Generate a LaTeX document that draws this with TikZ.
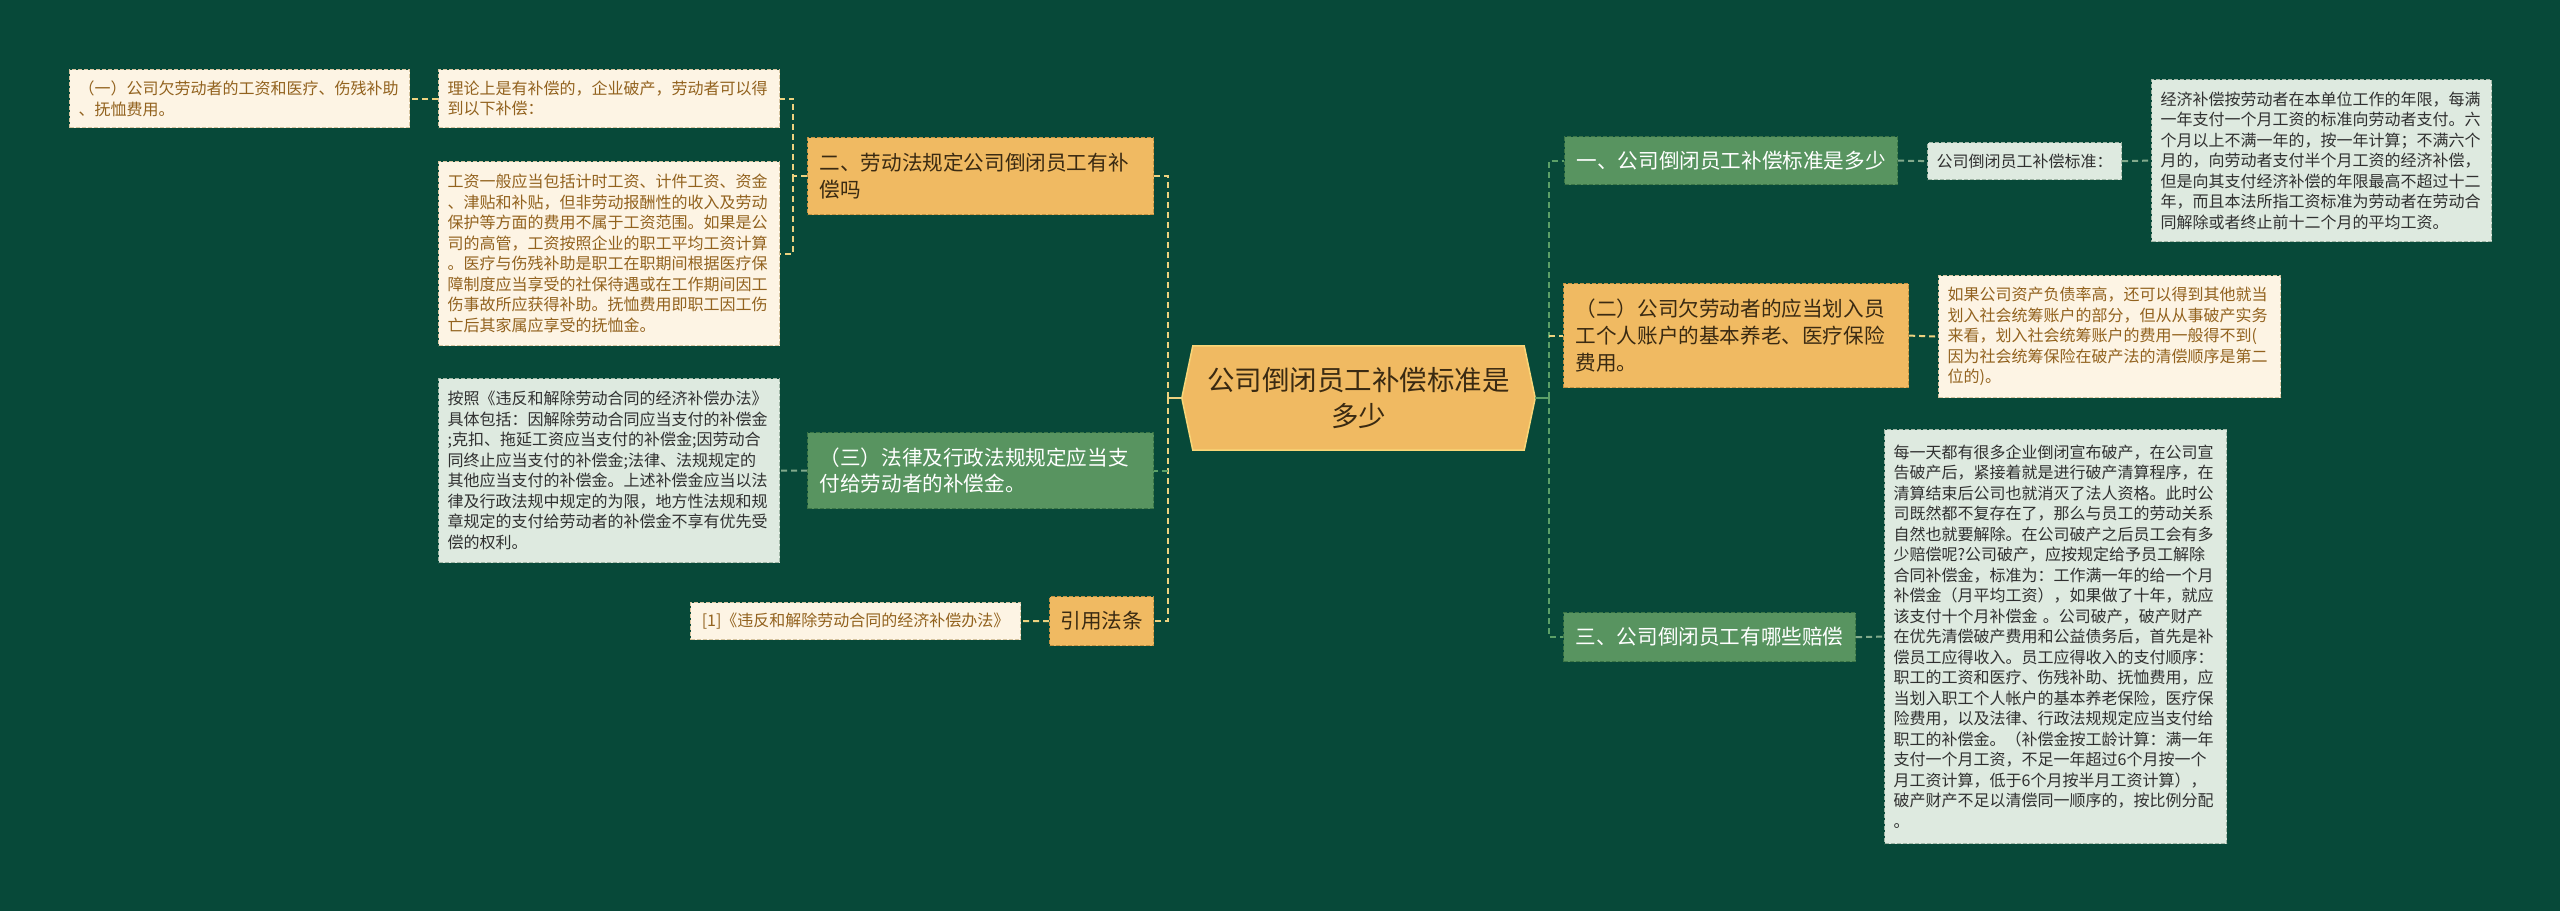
\documentclass[tikz,border=0pt]{standalone}
\usepackage{fontspec}
\setmainfont{Noto Sans CJK SC}
\usetikzlibrary{backgrounds}
\definecolor{bgc}{RGB}{7,73,57}
\definecolor{orfill}{RGB}{240,186,98}
\definecolor{orborder}{RGB}{196,146,66}
\definecolor{ortext}{RGB}{58,42,18}
\definecolor{grfill}{RGB}{88,148,96}
\definecolor{grborder}{RGB}{58,116,70}
\definecolor{creamfill}{RGB}{253,244,228}
\definecolor{creamborder}{RGB}{214,196,160}
\definecolor{creamtext}{RGB}{146,98,30}
\definecolor{grayfill}{RGB}{222,234,224}
\definecolor{grayborder}{RGB}{160,182,166}
\definecolor{graytext}{RGB}{48,48,48}
\definecolor{yl}{RGB}{236,210,128}
\definecolor{gl}{RGB}{92,160,104}
\definecolor{gl2}{RGB}{130,170,140}
\definecolor{hexborder}{RGB}{248,214,120}
\newcommand\leaffont{\fontsize{16bp}{20.5bp}\selectfont}
\newcommand\branchfont{\fontsize{20.6bp}{26.7bp}\selectfont}
\newcommand\centerfont{\fontsize{27.5bp}{36.7bp}\selectfont}
\tikzset{
  box/.style={anchor=north west, inner xsep=9bp, inner ysep=2bp, dash pattern=on 4bp off 2bp, line width=1.2bp},
  cream/.style={box, fill=creamfill, draw=creamborder, text=creamtext, font=\leaffont, align=left},
  graybox/.style={box, fill=grayfill, draw=grayborder, text=graytext, font=\leaffont, align=left},
  obox/.style={box, inner xsep=12bp, fill=orfill, draw=orborder, text=ortext, font=\branchfont, align=left},
  gbox/.style={box, inner xsep=12bp, fill=grfill, draw=grborder, text=white, font=\branchfont, align=left},
  yline/.style={draw=yl, line width=2bp, dash pattern=on 6bp off 4bp},
  gline/.style={draw=gl, line width=2bp, dash pattern=on 6bp off 4bp},
  gline2/.style={draw=gl2, line width=2bp, dash pattern=on 6bp off 4bp},
}
\begin{document}
\begin{tikzpicture}[x=1bp, y=-1bp]
\useasboundingbox (0,0) rectangle (2560,911);
\begin{scope}[on background layer]
  \fill[bgc] (0,0) rectangle (2560,911);
\end{scope}

% centre
\node[minimum width=353bp, minimum height=104bp, inner sep=0pt, text=ortext, font=\centerfont, align=center, text width=330bp] (c) at (1358.5,398) {公司倒闭员工补偿标准是\\多少};
\begin{scope}[on background layer]
  \filldraw[fill=orfill, draw=hexborder, line width=1.5bp] (c.west) -- ([xshift=11bp]c.north west) -- ([xshift=-11bp]c.north east) -- (c.east) -- ([xshift=-11bp]c.south east) -- ([xshift=11bp]c.south west) -- cycle;
\end{scope}

% left side
\node[cream, minimum width=340bp, minimum height=58bp, text width=322bp] (l1) at (69,69) {（一）公司欠劳动者的工资和医疗、伤残补助\\、抚恤费用。};
\node[cream, minimum width=341bp, minimum height=58bp, text width=323bp] (l2) at (438,69) {理论上是有补偿的，企业破产，劳动者可以得\\到以下补偿：};
\node[cream, minimum width=341bp, minimum height=184bp, text width=323bp] (l3) at (438,161) {工资一般应当包括计时工资、计件工资、资金\\、津贴和补贴，但非劳动报酬性的收入及劳动\\保护等方面的费用不属于工资范围。如果是公\\司的高管，工资按照企业的职工平均工资计算\\。医疗与伤残补助是职工在职期间根据医疗保\\障制度应当享受的社保待遇或在工作期间因工\\伤事故所应获得补助。抚恤费用即职工因工伤\\亡后其家属应享受的抚恤金。};
\node[obox, minimum width=346bp, minimum height=77bp, text width=322bp] (n2) at (807,137) {二、劳动法规定公司倒闭员工有补\\偿吗};
\node[gbox, minimum width=346bp, minimum height=76bp, text width=322bp] (n3) at (807,432) {（三）法律及行政法规规定应当支\\付给劳动者的补偿金。};
\node[graybox, minimum width=341bp, minimum height=184bp, text width=323bp] (l4) at (438,378) {按照《违反和解除劳动合同的经济补偿办法》\\具体包括：因解除劳动合同应当支付的补偿金\\;克扣、拖延工资应当支付的补偿金;因劳动合\\同终止应当支付的补偿金;法律、法规规定的\\其他应当支付的补偿金。上述补偿金应当以法\\律及行政法规中规定的为限，地方性法规和规\\章规定的支付给劳动者的补偿金不享有优先受\\偿的权利。};
\node[obox, minimum width=104bp, minimum height=49bp, inner xsep=8bp] (n4) at (1049,596) {引用法条};
\node[cream, minimum width=330bp, minimum height=37bp] (l5) at (690,602) {[1]《违反和解除劳动合同的经济补偿办法》};

% right side
\node[gbox, minimum width=333bp, minimum height=48bp] (r1) at (1564,136) {一、公司倒闭员工补偿标准是多少};
\node[graybox, minimum width=194bp, minimum height=37bp] (r1a) at (1927,142) {公司倒闭员工补偿标准：};
\node[graybox, minimum width=340bp, minimum height=162bp, text width=322bp] (r1b) at (2151,79) {经济补偿按劳动者在本单位工作的年限，每满\\一年支付一个月工资的标准向劳动者支付。六\\个月以上不满一年的，按一年计算；不满六个\\月的，向劳动者支付半个月工资的经济补偿，\\但是向其支付经济补偿的年限最高不超过十二\\年，而且本法所指工资标准为劳动者在劳动合\\同解除或者终止前十二个月的平均工资。};
\node[obox, minimum width=345bp, minimum height=104bp, text width=321bp] (r2) at (1563,283) {（二）公司欠劳动者的应当划入员\\工个人账户的基本养老、医疗保险\\费用。};
\node[cream, minimum width=342bp, minimum height=122bp, text width=324bp] (r2a) at (1938,275) {如果公司资产负债率高，还可以得到其他就当\\划入社会统筹账户的部分，但从从事破产实务\\来看，划入社会统筹账户的费用一般得不到(\\因为社会统筹保险在破产法的清偿顺序是第二\\位的)。};
\node[gbox, minimum width=292bp, minimum height=49bp] (r3) at (1563,612) {三、公司倒闭员工有哪些赔偿};
\node[graybox, minimum width=342bp, minimum height=414bp, text width=324bp] (r3a) at (1884,429) {每一天都有很多企业倒闭宣布破产，在公司宣\\告破产后，紧接着就是进行破产清算程序，在\\清算结束后公司也就消灭了法人资格。此时公\\司既然都不复存在了，那么与员工的劳动关系\\自然也就要解除。在公司破产之后员工会有多\\少赔偿呢?公司破产，应按规定给予员工解除\\合同补偿金，标准为：工作满一年的给一个月\\补偿金（月平均工资），如果做了十年，就应\\该支付十个月补偿金 。公司破产，破产财产\\在优先清偿破产费用和公益债务后，首先是补\\偿员工应得收入。员工应得收入的支付顺序：\\职工的工资和医疗、伤残补助、抚恤费用，应\\当划入职工个人帐户的基本养老保险，医疗保\\险费用，以及法律、行政法规规定应当支付给\\职工的补偿金。（补偿金按工龄计算：满一年\\支付一个月工资，不足一年超过6个月按一个\\月工资计算，低于6个月按半月工资计算），\\破产财产不足以清偿同一顺序的，按比例分配\\。};

% connectors
\coordinate (lb) at (1168,398);
\coordinate (rb) at (1549,398);
\draw[yl, line width=2bp] (c.west) -- (lb);
\draw[yline] (lb) |- (n2.east);
\draw[yline] (lb) |- (n4.east);
\draw[gline] (lb |- n3.east) -- (n3.east);
\draw[gl, line width=2bp] (c.east) -- (rb);
\draw[gline] (rb) |- (r1.west);
\draw[gline] (rb) |- (r3.west);
\draw[yline] (rb |- r2.west) -- (r2.west);

\draw[yline] (n2.west) -- ([xshift=-14bp]n2.west) |- (l2.east);
\draw[yline] ([xshift=-14bp]n2.west) |- (l3.east);
\draw[yline] (l2.west) -- (l1.east);
\draw[gline2] (n3.west) -- (l4.east);
\draw[yline] (n4.west) -- (l5.east);
\draw[gline2] (r1.east) -- (r1a.west);
\draw[gline2] (r1a.east) -- (r1b.west);
\draw[yline] (r2.east) -- (r2a.west);
\draw[gline2] (r3.east) -- (r3a.west);
\end{tikzpicture}
\end{document}
